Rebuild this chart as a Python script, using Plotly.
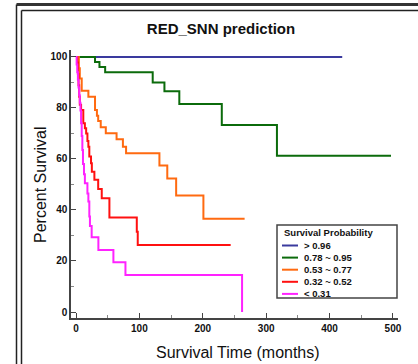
import plotly.graph_objects as go

# ---- data ----
labels = ["> 0.96", "0.78 ~ 0.95", "0.53 ~ 0.77", "0.32 ~ 0.52", "< 0.31"]
colors = ["#3a3a9e", "#0b6b0b", "#ff6a10", "#ff1010", "#ff22ff"]

blue_t = [0, 420]
blue_s = [100, 100]

green_t = [0, 30, 37, 46, 121, 139.5, 163, 230, 317, 497]
green_s = [100, 98, 96, 94, 90, 86.5, 81.5, 73.3, 61.2, 61.2]

orange_t = [0, 4.5, 6, 9, 19.5, 30, 33, 35, 39, 47, 64, 74, 79, 131.6, 144, 158, 201, 266]
orange_s = [100, 95.5, 91.5, 86.7, 84.4, 79.2, 76.9, 74.9, 72.4, 70.1, 67.7, 64.8, 62.2, 57.4, 52.3, 45.7, 36.6, 36.6]

red_t = [0, 2, 3, 4, 5, 6, 8, 11.5, 14, 16, 18, 19.5, 21, 23.7, 25, 29, 35, 40.6, 52.7, 95.9, 97.4, 244]
red_s = [100, 97.8, 93.3, 88.9, 84.4, 81.2, 79.2, 74, 72, 70, 67, 64.8, 61, 58.3, 55, 51.8, 48.2, 44.6, 37, 31.5, 26.3, 26.3]

mag_t = [0, 1, 2, 3, 4, 5, 6, 7, 8, 9, 10, 11, 12.6, 14, 18, 19.5, 21, 22, 24.7, 35.3, 59, 78, 262]
mag_s = [100, 97, 94, 91, 88, 85, 82, 79, 74, 69, 63.5, 58, 54, 50.5, 46.5, 43.3, 37.4, 33.7, 29.3, 24.3, 19.5, 14.5, 0]

x_ticks = [0, 100, 200, 300, 400, 500]
y_ticks = [0, 20, 40, 60, 80, 100]

series = [(blue_t, blue_s), (green_t, green_s), (orange_t, orange_s), (red_t, red_s), (mag_t, mag_s)]

W, H = 418, 364
L, R, T, B = 71, 20, 50, 46
PW, PH = W - L - R, H - T - B

def px(x):
    return (x - L) / PW

def py(y):
    return (H - B - y) / PH

fig = go.Figure()
for (t, s), c, name in zip(series, colors, labels):
    fig.add_trace(go.Scatter(x=t, y=s, mode="lines", line=dict(color=c, width=2, shape="hv"),
                             name=name, showlegend=False, hoverinfo="skip"))

FONT = "Liberation Sans, Arial, sans-serif"
axis_common = dict(showline=True, linecolor="#444444", linewidth=1.5, mirror=False,
                   ticks="inside", ticklen=5, tickwidth=1.2, tickcolor="#444444",
                   showgrid=False, zeroline=False,
                   tickfont=dict(family=FONT, size=10, color="#111111", weight="bold"))

fig.update_layout(
    width=W, height=H,
    margin=dict(l=L, r=R, t=T, b=B),
    paper_bgcolor="white", plot_bgcolor="white",
    title=dict(text="RED_SNN prediction", x=221 / W, y=1 - 29 / H, xanchor="center", yanchor="middle",
               font=dict(family=FONT, size=15, color="#111111", weight="bold")),
    xaxis=dict(range=[-7.9, 508], tickvals=x_ticks,
               minor=dict(dtick=50, ticks="inside", ticklen=3, tickcolor="#888888", tickwidth=1),
               **axis_common),
    yaxis=dict(range=[-2.35, 102.7], tickvals=y_ticks,
               minor=dict(dtick=10, ticks="inside", ticklen=3, tickcolor="#888888", tickwidth=1),
               **axis_common),
    showlegend=False,
)

# axis titles
fig.add_annotation(text="Percent Survival", xref="paper", yref="paper", x=px(40), y=py(185),
                   textangle=-90, showarrow=False, xanchor="center", yanchor="middle",
                   font=dict(family=FONT, size=16, color="#111111"))
fig.add_annotation(text="Survival Time (months)", xref="paper", yref="paper", x=px(238), y=py(352),
                   showarrow=False, xanchor="center", yanchor="middle",
                   font=dict(family=FONT, size=16, color="#111111"))

# frame lines around the chart
shapes = []
frame = dict(color="#222222", width=1.5)
shapes.append(dict(type="line", xref="paper", yref="paper", x0=px(16.5), x1=px(418), y0=py(4.5), y1=py(4.5),
                   line=dict(color="#333333", width=3)))
shapes.append(dict(type="line", xref="paper", yref="paper", x0=px(16.5), x1=px(16.5), y0=py(4.5), y1=py(364),
                   line=frame))
shapes.append(dict(type="line", xref="paper", yref="paper", x0=px(21.5), x1=px(418), y0=py(10.5), y1=py(10.5),
                   line=frame))
shapes.append(dict(type="line", xref="paper", yref="paper", x0=px(21.5), x1=px(21.5), y0=py(10.5), y1=py(364),
                   line=frame))

# legend box
shapes.append(dict(type="rect", xref="paper", yref="paper", x0=px(277), x1=px(397), y0=py(225), y1=py(298),
                   line=dict(color="#444444", width=1.5), fillcolor="white"))
fig.add_annotation(text="Survival Probability", xref="paper", yref="paper", x=px(282), y=py(233),
                   showarrow=False, xanchor="left", yanchor="middle",
                   font=dict(family=FONT, size=9.5, color="#111111", weight="bold"))
for i, (name, c) in enumerate(zip(labels, colors)):
    yy = 245.5 + i * 12.1
    shapes.append(dict(type="line", xref="paper", yref="paper", x0=px(282), x1=px(298), y0=py(yy), y1=py(yy),
                       line=dict(color=c, width=2)))
    fig.add_annotation(text=name, xref="paper", yref="paper", x=px(302), y=py(yy),
                       showarrow=False, xanchor="left", yanchor="middle",
                       font=dict(family=FONT, size=9.5, color="#111111", weight="bold"))

fig.update_layout(shapes=shapes)
fig.write_html("out.html")
